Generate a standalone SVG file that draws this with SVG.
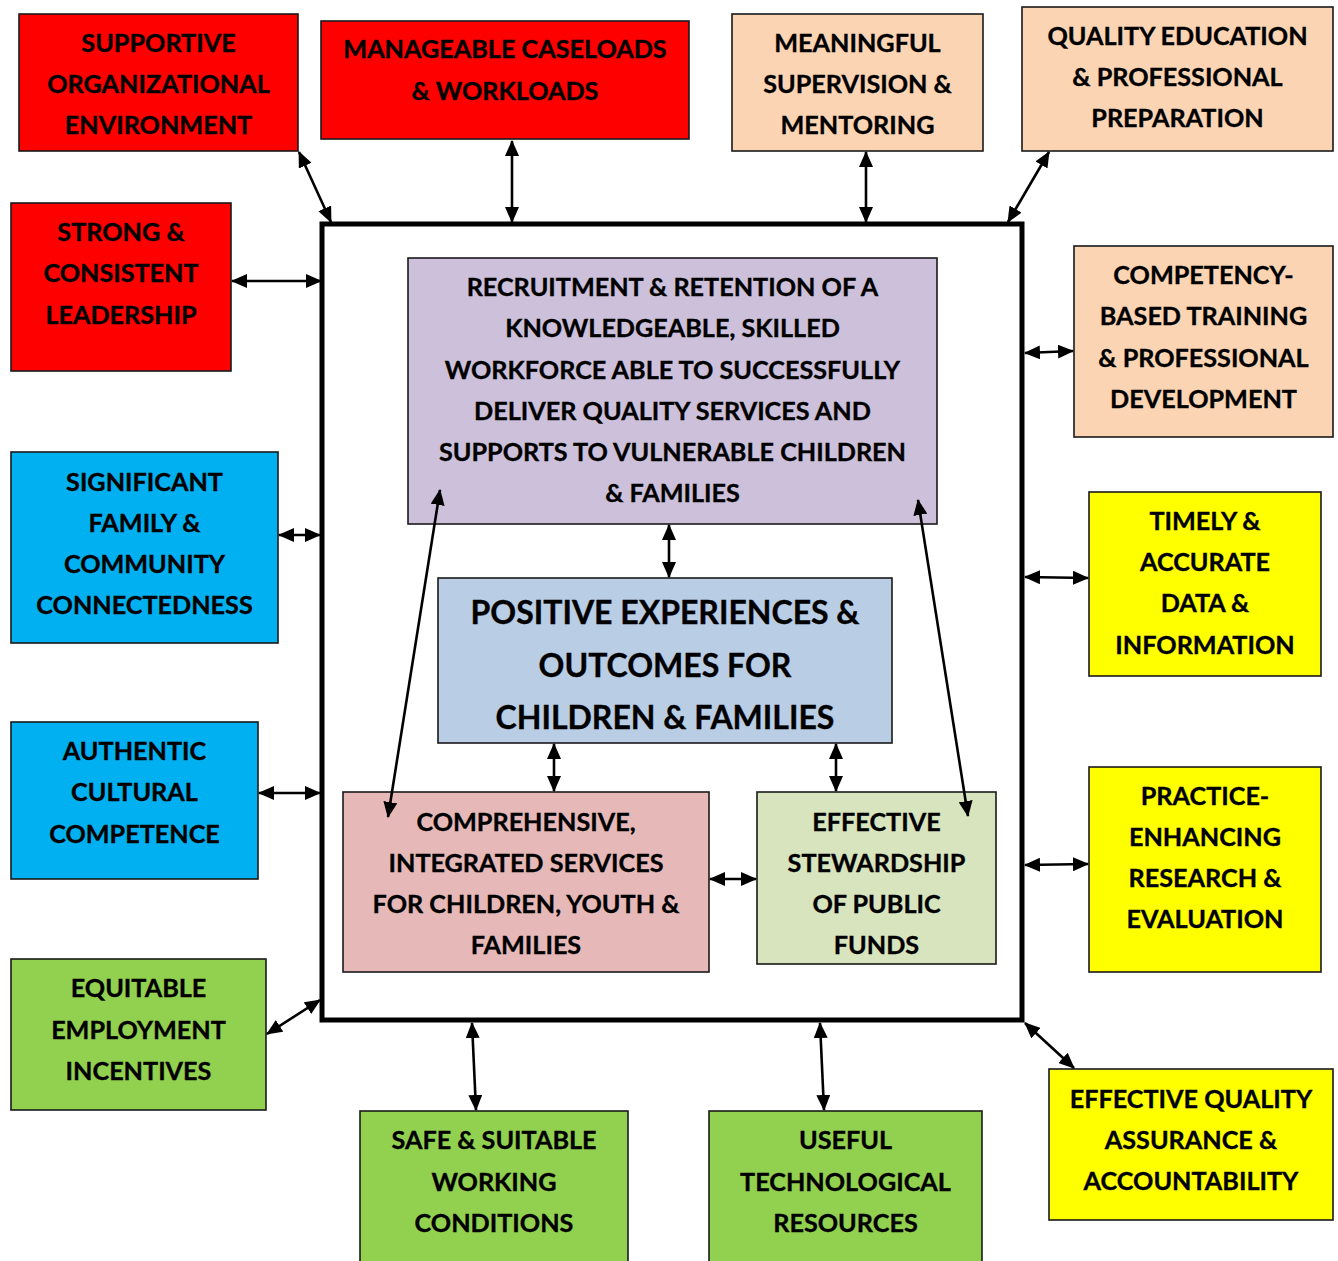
<svg xmlns="http://www.w3.org/2000/svg" width="1338" height="1261" viewBox="0 0 1338 1261">
<defs>
<marker id="ah" viewBox="0 0 16 14" markerWidth="16" markerHeight="14" refX="15" refY="7" orient="auto-start-reverse" markerUnits="userSpaceOnUse">
<path d="M0,0 L16,7 L0,14 z" fill="#000"/>
</marker>
<style>
.b{stroke:#1a1a1a;stroke-width:1.6}
.t{font-family:Lato,"Open Sans","Liberation Sans",sans-serif;font-weight:700;font-size:25.2px;fill:#000;text-anchor:middle;stroke:#000;stroke-width:0.35}
.big{font-size:32px}
.c{stroke:#000;stroke-width:2.6;fill:none;marker-start:url(#ah);marker-end:url(#ah)}
.red{fill:#FF0000}.peach{fill:#FBD4B4}.blue{fill:#00B0F0}.yel{fill:#FFFF00}.grn{fill:#92D050}
</style>
</defs>
<rect width="1338" height="1261" fill="#fff"/>
<g id="frame"><rect x="322" y="224" width="700" height="796" fill="#fff" stroke="#000" stroke-width="5"/></g>

<g id="n1"><rect class="b red" x="19" y="14" width="279" height="137"/><text class="t"><tspan x="158.5" y="52">SUPPORTIVE</tspan><tspan x="158.5" y="93">ORGANIZATIONAL</tspan><tspan x="158.5" y="134">ENVIRONMENT</tspan></text></g>
<g id="n2"><rect class="b red" x="321" y="21" width="368" height="118"/><text class="t"><tspan x="505" y="58">MANAGEABLE CASELOADS</tspan><tspan x="505" y="100">&amp; WORKLOADS</tspan></text></g>
<g id="n3"><rect class="b peach" x="732" y="14" width="251" height="137"/><text class="t"><tspan x="857.5" y="52">MEANINGFUL</tspan><tspan x="857.5" y="93">SUPERVISION &amp;</tspan><tspan x="857.5" y="134">MENTORING</tspan></text></g>
<g id="n4"><rect class="b peach" x="1022" y="7" width="311" height="144"/><text class="t"><tspan x="1177.5" y="45">QUALITY EDUCATION</tspan><tspan x="1177.5" y="86">&amp; PROFESSIONAL</tspan><tspan x="1177.5" y="127">PREPARATION</tspan></text></g>
<g id="n5"><rect class="b red" x="11" y="203" width="220" height="168"/><text class="t"><tspan x="121" y="241">STRONG &amp;</tspan><tspan x="121" y="282">CONSISTENT</tspan><tspan x="121" y="324">LEADERSHIP</tspan></text></g>
<g id="n6"><rect class="b peach" x="1074" y="246" width="259" height="191"/><text class="t"><tspan x="1203.5" y="284">COMPETENCY-</tspan><tspan x="1203.5" y="325">BASED TRAINING</tspan><tspan x="1203.5" y="367">&amp; PROFESSIONAL</tspan><tspan x="1203.5" y="408">DEVELOPMENT</tspan></text></g>
<g id="n7"><rect class="b blue" x="11" y="452" width="267" height="191"/><text class="t"><tspan x="144.5" y="491">SIGNIFICANT</tspan><tspan x="144.5" y="532">FAMILY &amp;</tspan><tspan x="144.5" y="573">COMMUNITY</tspan><tspan x="144.5" y="614">CONNECTEDNESS</tspan></text></g>
<g id="n8"><rect class="b yel" x="1089" y="492" width="232" height="184"/><text class="t"><tspan x="1205" y="530">TIMELY &amp;</tspan><tspan x="1205" y="571">ACCURATE</tspan><tspan x="1205" y="612">DATA &amp;</tspan><tspan x="1205" y="654">INFORMATION</tspan></text></g>
<g id="n9"><rect class="b blue" x="11" y="722" width="247" height="157"/><text class="t"><tspan x="134.5" y="760">AUTHENTIC</tspan><tspan x="134.5" y="801">CULTURAL</tspan><tspan x="134.5" y="843">COMPETENCE</tspan></text></g>
<g id="n10"><rect class="b yel" x="1089" y="767" width="232" height="205"/><text class="t"><tspan x="1205" y="805">PRACTICE-</tspan><tspan x="1205" y="846">ENHANCING</tspan><tspan x="1205" y="887">RESEARCH &amp;</tspan><tspan x="1205" y="928">EVALUATION</tspan></text></g>
<g id="n11"><rect class="b grn" x="11" y="959" width="255" height="151"/><text class="t"><tspan x="138.5" y="997">EQUITABLE</tspan><tspan x="138.5" y="1039">EMPLOYMENT</tspan><tspan x="138.5" y="1080">INCENTIVES</tspan></text></g>
<g id="n12"><rect class="b grn" x="360" y="1111" width="268" height="160"/><text class="t"><tspan x="494" y="1149">SAFE &amp; SUITABLE</tspan><tspan x="494" y="1191">WORKING</tspan><tspan x="494" y="1232">CONDITIONS</tspan></text></g>
<g id="n13"><rect class="b grn" x="709" y="1111" width="273" height="160"/><text class="t"><tspan x="845.5" y="1149">USEFUL</tspan><tspan x="845.5" y="1191">TECHNOLOGICAL</tspan><tspan x="845.5" y="1232">RESOURCES</tspan></text></g>
<g id="n14"><rect class="b yel" x="1049" y="1069" width="284" height="151"/><text class="t"><tspan x="1191" y="1108">EFFECTIVE QUALITY</tspan><tspan x="1191" y="1149">ASSURANCE &amp;</tspan><tspan x="1191" y="1190">ACCOUNTABILITY</tspan></text></g>

<g id="recruit"><rect class="b" fill="#CCC0DA" x="408" y="258" width="529" height="266"/><text class="t"><tspan x="672.5" y="296">RECRUITMENT &amp; RETENTION OF A</tspan><tspan x="672.5" y="337">KNOWLEDGEABLE, SKILLED</tspan><tspan x="672.5" y="379">WORKFORCE ABLE TO SUCCESSFULLY</tspan><tspan x="672.5" y="420">DELIVER QUALITY SERVICES AND</tspan><tspan x="672.5" y="461">SUPPORTS TO VULNERABLE CHILDREN</tspan><tspan x="672.5" y="502">&amp; FAMILIES</tspan></text></g>
<g id="positive"><rect class="b" fill="#B9CDE5" x="438" y="578" width="454" height="165"/><text class="t big"><tspan x="665" y="624">POSITIVE EXPERIENCES &amp;</tspan><tspan x="665" y="677">OUTCOMES FOR</tspan><tspan x="665" y="729">CHILDREN &amp; FAMILIES</tspan></text></g>
<g id="comprehensive"><rect class="b" fill="#E6B9B8" x="343" y="792" width="366" height="180"/><text class="t"><tspan x="526" y="831">COMPREHENSIVE,</tspan><tspan x="526" y="872">INTEGRATED SERVICES</tspan><tspan x="526" y="913">FOR CHILDREN, YOUTH &amp;</tspan><tspan x="526" y="954">FAMILIES</tspan></text></g>
<g id="stewardship"><rect class="b" fill="#D7E4BD" x="757" y="792" width="239" height="172"/><text class="t"><tspan x="876.5" y="831">EFFECTIVE</tspan><tspan x="876.5" y="872">STEWARDSHIP</tspan><tspan x="876.5" y="913">OF PUBLIC</tspan><tspan x="876.5" y="954">FUNDS</tspan></text></g>

<g id="connectors">
<line class="c" x1="299" y1="152" x2="331" y2="222"/>
<line class="c" x1="512" y1="141" x2="512" y2="222"/>
<line class="c" x1="866" y1="152" x2="866" y2="222"/>
<line class="c" x1="1049" y1="152" x2="1008" y2="222"/>
<line class="c" x1="232" y1="281" x2="321" y2="281"/>
<line class="c" x1="1025" y1="353" x2="1073" y2="351"/>
<line class="c" x1="279" y1="535" x2="320" y2="535"/>
<line class="c" x1="1025" y1="577" x2="1088" y2="578"/>
<line class="c" x1="259" y1="793" x2="320" y2="793"/>
<line class="c" x1="1025" y1="865" x2="1088" y2="864"/>
<line class="c" x1="267" y1="1034" x2="320" y2="1000"/>
<line class="c" x1="472" y1="1023" x2="476" y2="1110"/>
<line class="c" x1="820" y1="1023" x2="824" y2="1110"/>
<line class="c" x1="1025" y1="1023" x2="1074" y2="1068"/>
<line class="c" x1="669" y1="525" x2="669" y2="577"/>
<line class="c" x1="554" y1="744" x2="554" y2="791"/>
<line class="c" x1="836" y1="744" x2="836" y2="791"/>
<line class="c" x1="710" y1="879" x2="756" y2="879"/>
<line class="c" x1="440" y1="490" x2="388" y2="817"/>
<line class="c" x1="918" y1="500" x2="968" y2="816"/>
</g>
</svg>
